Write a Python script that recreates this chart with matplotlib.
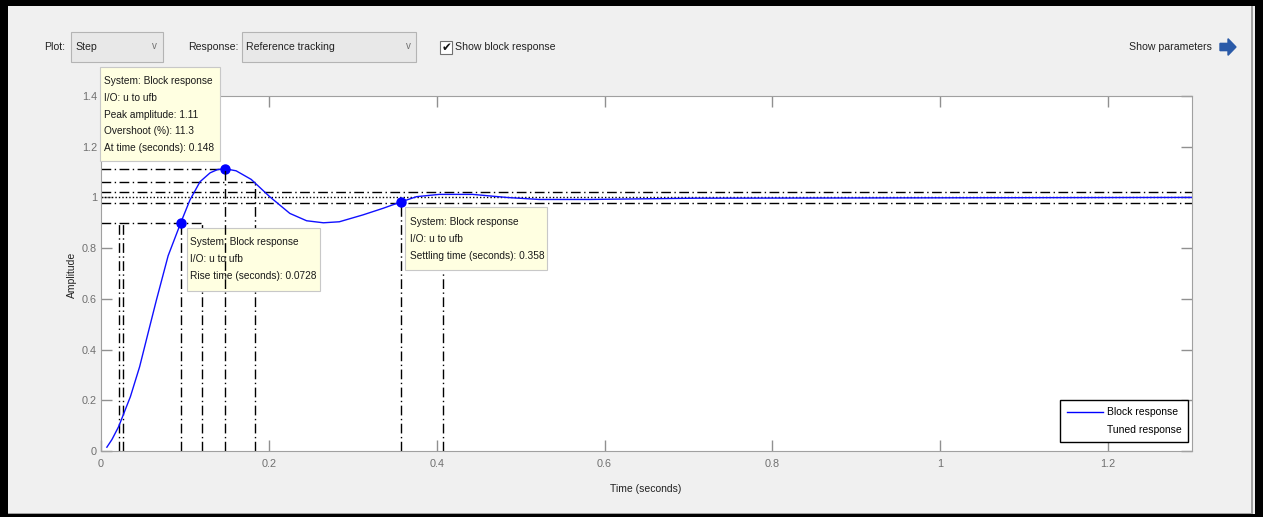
import matplotlib.pyplot as plt
from matplotlib.patches import Rectangle, FancyArrow
from matplotlib.lines import Line2D

W, H = 1263, 517

# block step response
time_s = [0.007, 0.013, 0.021, 0.035, 0.046, 0.056, 0.066, 0.080, 0.0955, 0.106,
          0.118, 0.130, 0.139, 0.148, 0.161, 0.179, 0.201, 0.225, 0.245, 0.265,
          0.284, 0.312, 0.336, 0.358, 0.376, 0.403, 0.443, 0.483, 0.522, 0.582,
          0.71, 1.3]
amplitude = [0.015, 0.045, 0.096, 0.214, 0.332, 0.464, 0.595, 0.77, 0.904, 0.99,
             1.062, 1.097, 1.110, 1.113, 1.105, 1.071, 1.003, 0.937, 0.908, 0.900,
             0.904, 0.931, 0.957, 0.983, 1.003, 1.012, 1.012, 1.000, 0.992, 0.992,
             0.997, 1.0]

# data tips
marker_t = [0.0955, 0.148, 0.358]
marker_y = [0.9, 1.113, 0.983]

peak_t, peak_y = 0.148, 1.113
tuned_peak_t, tuned_peak_y = 0.184, 1.062
rise_lo_t = [0.022, 0.026]
rise_hi_t = [0.0955, 0.12]
rise_level = 0.9
settle_t = [0.358, 0.408]
settle_band = [0.98, 1.02]
final_value = 1.0

xticks = [0, 0.2, 0.4, 0.6, 0.8, 1, 1.2]
xlabels = ['0', '0.2', '0.4', '0.6', '0.8', '1', '1.2']
yticks = [0, 0.2, 0.4, 0.6, 0.8, 1, 1.2, 1.4]
ylabels = ['0', '0.2', '0.4', '0.6', '0.8', '1', '1.2', '1.4']

tip_peak = ['System: Block response', 'I/O: u to ufb', 'Peak amplitude: 1.11',
            'Overshoot (%): 11.3', 'At time (seconds): 0.148']
tip_rise = ['System: Block response', 'I/O: u to ufb', 'Rise time (seconds): 0.0728']
tip_settle = ['System: Block response', 'I/O: u to ufb', 'Settling time (seconds): 0.358']

plt.rcParams['font.family'] = ['Liberation Sans', 'DejaVu Sans']
fs_ui = 7.6
fs_tip = 7.3


def fx(x):
    return x / W


def fy(y):
    return 1 - y / H


def box(x0, y0, x1, y1, fc, ec, lw=0.8, z=1, target=None):
    r = Rectangle((fx(x0), fy(y1)), (x1 - x0) / W, (y1 - y0) / H,
                  transform=fig.transFigure, facecolor=fc, edgecolor=ec,
                  lw=lw, zorder=z, clip_on=False)
    if target is None:
        fig.add_artist(r)
    else:
        target.add_patch(r)


fig = plt.figure(figsize=(W / 100, H / 100), dpi=100, facecolor='#f0f0f0')

# window frame
box(0, 0, W, 6, 'black', 'none')
box(0, 0, 8, H, 'black', 'none')
box(1255, 0, W, H, 'black', 'none')
box(0, 514, W, H, 'black', 'none')
box(1251, 6, 1252.5, 514, '#a0a0a0', 'none')
box(8, 512.5, 1252, 514, '#a0a0a0', 'none')

# toolbar
fig.text(fx(44), fy(47), 'Plot:', fontsize=fs_ui, va='center', color='#222222')
box(71, 32, 163, 62, '#e8e8e8', '#b4b4b4')
fig.text(fx(75), fy(47), 'Step', fontsize=fs_ui, va='center', color='#222222')
fig.text(fx(154), fy(46), 'v', fontsize=7, va='center', ha='center', color='#707070')
fig.text(fx(188), fy(47), 'Response:', fontsize=fs_ui, va='center', color='#222222')
box(242, 32, 416, 62, '#e8e8e8', '#b4b4b4')
fig.text(fx(246), fy(47), 'Reference tracking', fontsize=fs_ui, va='center', color='#222222')
fig.text(fx(408), fy(46), 'v', fontsize=7, va='center', ha='center', color='#707070')
box(440, 41, 452, 54, 'white', '#707070')
fig.text(fx(446.5), fy(47.5), '\u2714', fontsize=8.5, va='center', ha='center',
         family='DejaVu Sans', color='#111111')
fig.text(fx(455), fy(47), 'Show block response', fontsize=fs_ui, va='center', color='#222222')
fig.text(fx(1129), fy(47), 'Show parameters', fontsize=fs_ui, va='center', color='#222222')
fig.add_artist(FancyArrow(fx(1220), fy(47), fx(1228) - fx(1220), 0,
                          width=0.014, head_width=0.032, head_length=fx(8),
                          length_includes_head=False, transform=fig.transFigure,
                          color='#2a5aa8'))

ax = fig.add_axes([fx(101), fy(451), (1192 - 101) / W, (451 - 96) / H])
ax.set_facecolor('white')

ax.plot(time_s, amplitude, color='#1010ff', lw=1, zorder=3, label='Block response')
ax.plot(marker_t, marker_y, 'o', color='#0000ff', ms=6.5, zorder=4)

dd = dict(color='black', lw=1, dashes=(7, 2.5, 1, 2.5))
dot = dict(color='black', lw=1, dashes=(1, 1.5))

# peak lines
ax.plot([0, peak_t], [peak_y, peak_y], zorder=2, **dd)
ax.plot([peak_t, peak_t], [0, peak_y], zorder=7, **dd)
ax.plot([0, tuned_peak_t], [tuned_peak_y, tuned_peak_y], zorder=2, **dd)
ax.plot([tuned_peak_t, tuned_peak_t], [0, tuned_peak_y], zorder=2, **dd)
# rise time lines
ax.plot([0, rise_hi_t[1]], [rise_level, rise_level], zorder=2, **dd)
for t in rise_lo_t + rise_hi_t:
    ax.plot([t, t], [0, rise_level], zorder=2, **dd)
# settling lines
for t in settle_t:
    ax.plot([t, t], [0, settle_band[0]], zorder=2, **dd)
ax.axhline(settle_band[1], zorder=2, **dd)
ax.axhline(settle_band[0], zorder=2, **dd)
ax.axhline(final_value, zorder=2, **dot)

ax.set_xlim(0, 1.3)
ax.set_ylim(0, 1.4)
ax.set_xticks(xticks)
ax.set_xticklabels(xlabels)
ax.set_yticks(yticks)
ax.set_yticklabels(ylabels)
ax.tick_params(direction='in', length=8, width=1, color='#909090', labelcolor='#707070',
               labelsize=7.8, top=True, right=True)
ax.tick_params(axis='x', pad=6)
ax.tick_params(axis='y', pad=3)
for s in ax.spines.values():
    s.set_color('#a0a0a0')
ax.set_xlabel('Time (seconds)', fontsize=7.5, color='#222222')
ax.xaxis.set_label_coords(0.499, -0.094)
ax.set_ylabel('Amplitude', fontsize=7.5, color='#222222')
ax.yaxis.set_label_coords(-0.022, 0.496)

handles = [Line2D([], [], color='#0000ff', lw=1),
           Line2D([], [], color='none', lw=1)]
leg = ax.legend(handles, ['Block response', 'Tuned response'], loc='lower right',
                bbox_to_anchor=(0.9966, 0.026), borderaxespad=0, fontsize=7.5,
                fancybox=False, framealpha=1, edgecolor='black', handlelength=3.45,
                handletextpad=0.4, labelspacing=0.75, borderpad=0.65)
leg.get_frame().set_linewidth(1)
leg.set_zorder(8)


def tip(x0, y0, x1, y1, lines, tx, ty):
    box(x0, y0, x1, y1, '#ffffe1', '#c8c8c8', lw=0.8, z=5, target=ax)
    for i, s in enumerate(lines):
        ax.text(fx(tx), fy(ty + 16.8 * i), s, transform=fig.transFigure, fontsize=fs_tip,
                va='center', color='#1a1a1a', zorder=6, clip_on=False)


tip(100, 67, 220, 161, tip_peak, 104, 81)
tip(187, 228, 320, 291, tip_rise, 190, 242)
tip(405, 207, 547, 270, tip_settle, 410, 222)

fig.savefig('out.png', dpi=100, facecolor=fig.get_facecolor())
